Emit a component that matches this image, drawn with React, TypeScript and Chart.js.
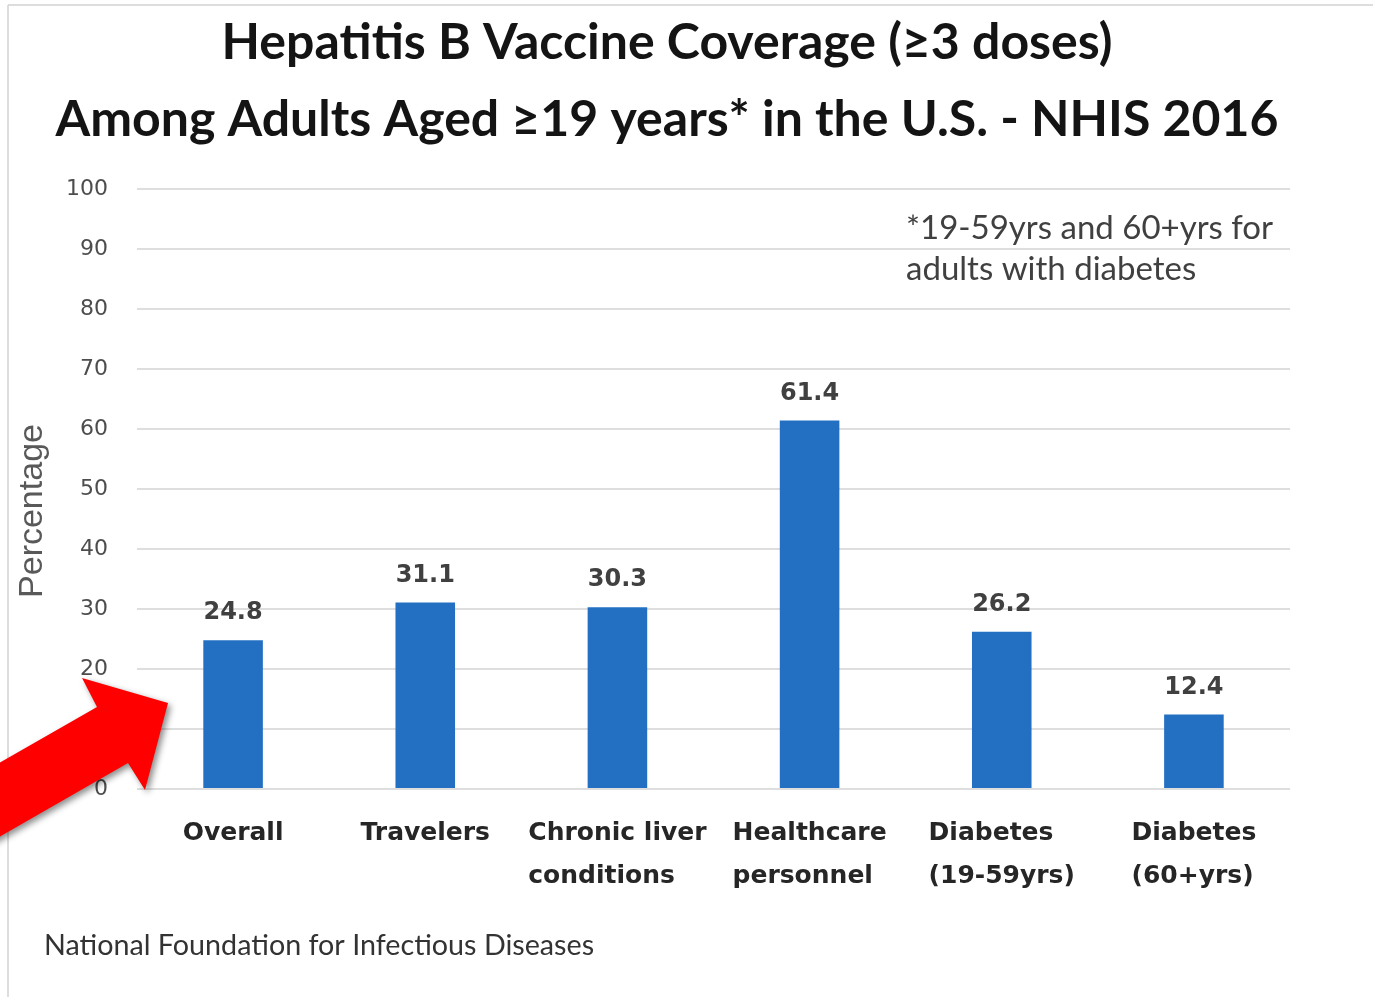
import React, { useEffect, useRef } from "react";
import { Chart, registerables } from "chart.js";

Chart.register(...registerables);

const categories: string[][] = [
  ["Overall"],
  ["Travelers"],
  ["Chronic liver", "conditions"],
  ["Healthcare", "personnel"],
  ["Diabetes", "(19-59yrs)"],
  ["Diabetes", "(60+yrs)"],
];
const coverage: number[] = [24.8, 31.1, 30.3, 61.4, 26.2, 12.4];
const titleLines: string[] = [
  "Hepatitis B Vaccine Coverage (\u22653 doses)",
  "Among Adults Aged \u226519 years* in the U.S. - NHIS 2016",
];
const noteLines: string[] = ["*19-59yrs and 60+yrs for", "adults with diabetes"];
const sourceText = "National Foundation for Infectious Diseases";
const yAxisTitle = "Percentage";

const W = 1373;
const H = 997;

const decorPlugin = {
  id: "decor",
  beforeDraw(chart: any) {
    const ctx = chart.ctx;
    ctx.save();
    ctx.fillStyle = "#ffffff";
    ctx.fillRect(0, 0, W, H);
    ctx.strokeStyle = "#d2d2d2";
    ctx.lineWidth = 1.5;
    ctx.beginPath();
    ctx.moveTo(8, 5);
    ctx.lineTo(W, 5);
    ctx.moveTo(8, 5);
    ctx.lineTo(8, H);
    ctx.stroke();
    ctx.restore();
  },
  afterDraw(chart: any) {
    const ctx = chart.ctx;
    ctx.save();
    // title
    ctx.fillStyle = "#141414";
    ctx.textAlign = "center";
    ctx.textBaseline = "middle";
    ctx.font = "bold 50px Lato";
    ctx.fillText(titleLines[0], 667, 43);
    ctx.fillText(titleLines[1], 667, 120);

    // y axis title
    ctx.save();
    ctx.translate(33, 511);
    ctx.rotate(-Math.PI / 2);
    ctx.fillStyle = "#595959";
    ctx.font = "34px 'Liberation Sans'";
    ctx.fillText(yAxisTitle, 0, 0);
    ctx.restore();

    // value labels
    const meta = chart.getDatasetMeta(0);
    ctx.fillStyle = "#404040";
    ctx.font = "bold 24px 'DejaVu Sans'";
    meta.data.forEach((bar: any, i: number) => {
      ctx.fillText(coverage[i].toFixed(1), bar.x, bar.y - 27);
    });

    // category labels: block centred on tick, lines left-aligned
    const xs = chart.scales.x;
    ctx.fillStyle = "#262626";
    ctx.font = "bold 25px 'DejaVu Sans'";
    ctx.textAlign = "left";
    categories.forEach((lines, i) => {
      const cx = xs.getPixelForValue(i);
      const wmax = Math.max(...lines.map((l) => ctx.measureText(l).width));
      const left = cx - wmax / 2;
      lines.forEach((l, j) => {
        ctx.fillText(l, left, 833 + j * 43);
      });
    });

    // note
    ctx.fillStyle = "#404040";
    ctx.font = "33px Lato";
    ctx.fillText(noteLines[0], 906, 228);
    ctx.fillText(noteLines[1], 906, 269);

    // source
    ctx.fillStyle = "#333333";
    ctx.font = "28.7px Lato";
    ctx.fillText(sourceText, 44, 946);

    // red arrow
    ctx.shadowColor = "rgba(0,0,0,0.45)";
    ctx.shadowBlur = 6;
    ctx.shadowOffsetX = 3;
    ctx.shadowOffsetY = 3;
    ctx.fillStyle = "#ff0000";
    ctx.beginPath();
    ctx.moveTo(-20, 774);
    ctx.lineTo(97, 707);
    ctx.lineTo(82, 678);
    ctx.lineTo(168, 703);
    ctx.lineTo(145, 790);
    ctx.lineTo(128, 763);
    ctx.lineTo(-20, 848);
    ctx.closePath();
    ctx.fill();
    ctx.restore();
  },
};

export default function App() {
  const ref = useRef<HTMLCanvasElement>(null);
  useEffect(() => {
    if (!ref.current) return;
    const chart = new Chart(ref.current, {
      type: "bar",
      data: {
        labels: categories,
        datasets: [
          {
            data: coverage,
            backgroundColor: "#2370c3",
            borderWidth: 0,
            barPercentage: 0.31,
            categoryPercentage: 1,
          },
        ],
      },
      options: {
        responsive: false,
        animation: false,
        layout: { padding: { top: 189, right: 83, bottom: 0, left: 0 } },
        plugins: {
          legend: { display: false },
          title: { display: false },
          tooltip: { enabled: false },
        },
        scales: {
          x: {
            grid: { display: false, drawTicks: false },
            border: { display: false },
            ticks: { display: false },
            afterFit: (s: any) => {
              s.height = 208;
              s.paddingLeft = 0;
              s.paddingRight = 0;
            },
          },
          y: {
            min: 0,
            max: 100,
            ticks: {
              stepSize: 10,
              color: "#4d4d4d",
              padding: 29,
              font: { family: "DejaVu Sans", size: 22 },
            },
            grid: { color: "#dedede", lineWidth: 2, drawTicks: false },
            border: { display: false },
            afterFit: (s: any) => {
              s.width = 137;
              s.paddingTop = 0;
              s.paddingBottom = 0;
            },
          },
        },
      },
      plugins: [decorPlugin],
    });
    return () => chart.destroy();
  }, []);
  return (
    <div style={{ position: "absolute", left: 0, top: 0, width: W, height: H, background: "#fff" }}>
      <canvas ref={ref} width={W} height={H} style={{ display: "block" }} />
    </div>
  );
}
